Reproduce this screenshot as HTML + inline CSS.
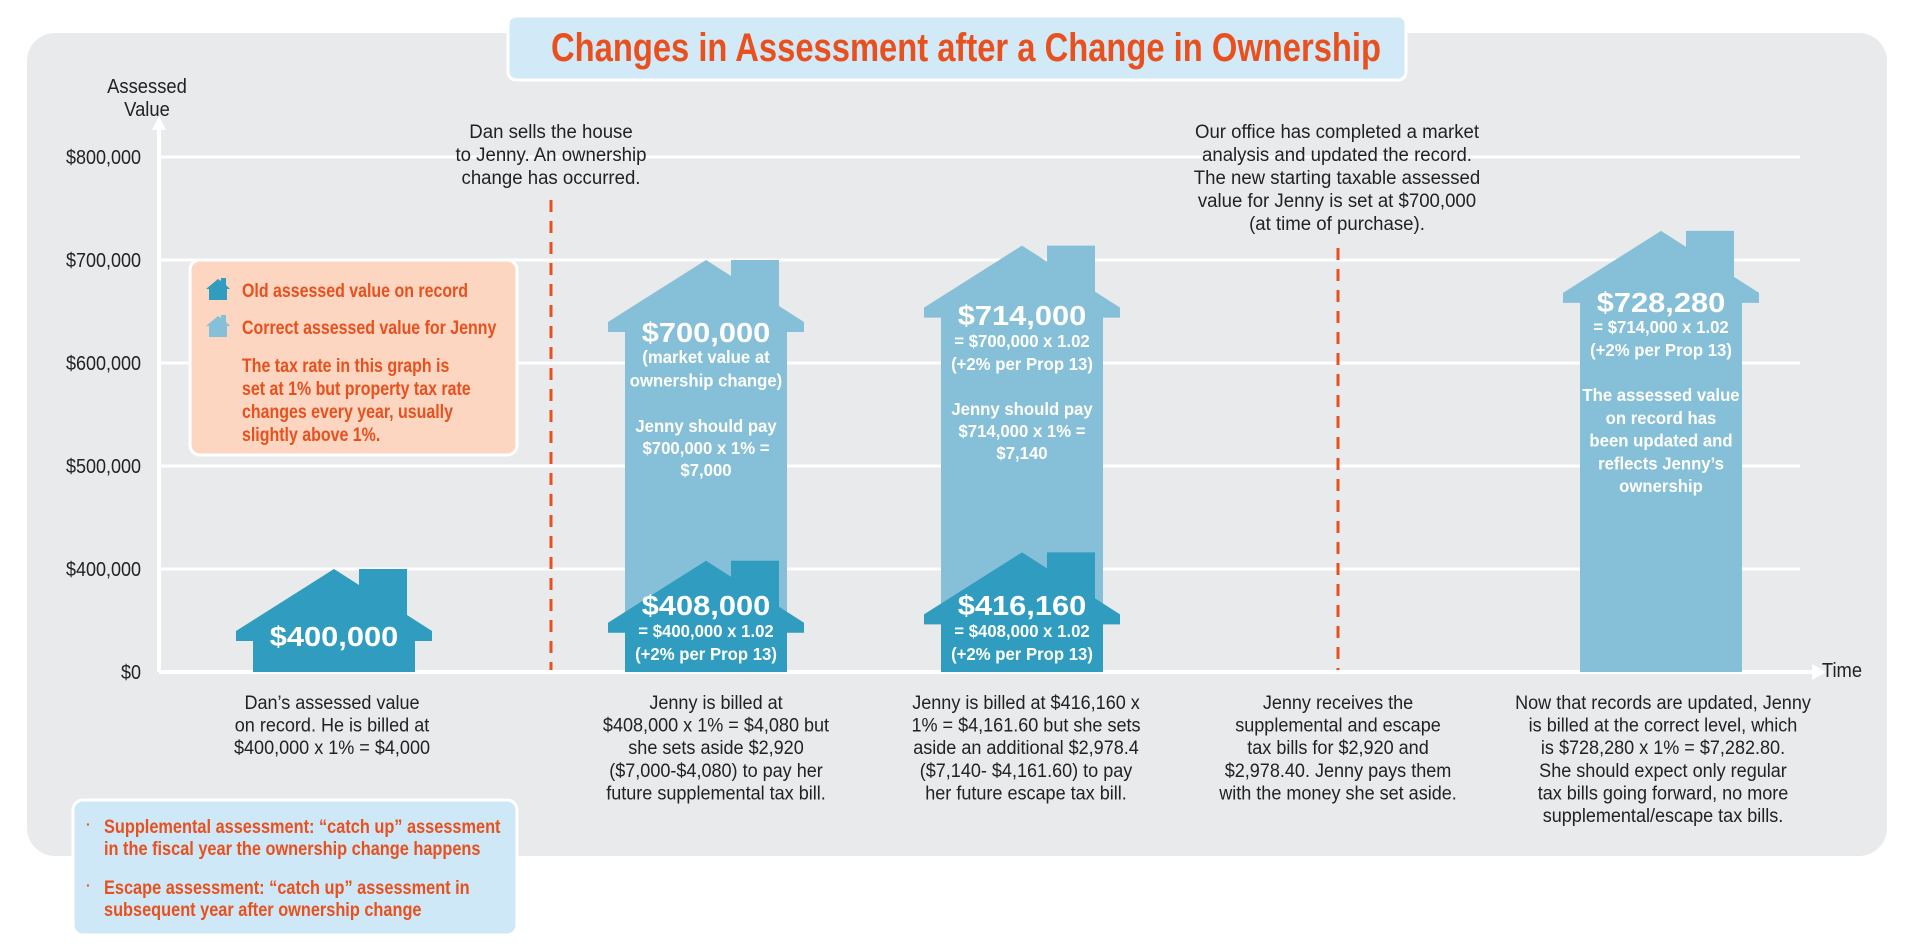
<!DOCTYPE html>
<html><head><meta charset="utf-8">
<style>
html,body{margin:0;padding:0;background:#fff;}
svg{display:block;}
text{font-family:"Liberation Sans Narrow","Liberation Sans",sans-serif;}
</style></head>
<body>
<svg id="chart" width="1920" height="952" viewBox="0 0 1920 952" xmlns="http://www.w3.org/2000/svg">
  <rect x="27" y="33" width="1860" height="823" rx="28" fill="#e9eaec"/>
  <g>
    <rect x="508" y="16" width="898" height="64" rx="8" fill="#d2eaf8" stroke="#fff" stroke-width="3"/>
    <text x="966" y="61" text-anchor="middle" font-size="40" font-weight="bold" fill="#e8501e" textLength="830" lengthAdjust="spacingAndGlyphs">Changes in Assessment after a Change in Ownership</text>
  </g>
  <g id="grid"></g>
  <g id="yaxis"></g>
  <g id="houses"></g>
  <g id="texts"></g>
</svg>
<script>
const tickValues = [0, 400000, 500000, 600000, 700000, 800000];
const tickLabels = ["$0", "$400,000", "$500,000", "$600,000", "$700,000", "$800,000"];
const oldValues = [400000, 408000, 416160, null];
const correctValues = [null, 700000, 714000, 728280];
const houseCenters = [334, 706, 1022, 1661];
const eventLabels = ["Dan sells the house", "Office updated record"];
const eventPositions = [551, 1338];

const NS = "http://www.w3.org/2000/svg";
const BASE = 672;
function yScale(v){
  if (v <= 0) return BASE;
  if (v < 400000) return BASE - v/400000*103;
  return 569 - (v-400000)/100000*103;
}
function mk(tag, attrs, parent){
  const e = document.createElementNS(NS, tag);
  for (const k in attrs) e.setAttribute(k, attrs[k]);
  parent.appendChild(e);
  return e;
}
const grid = document.getElementById('grid');
const yaxis = document.getElementById('yaxis');
tickValues.forEach((v,i)=>{
  const y = yScale(v);
  if (v > 0) {
    const l = mk('line',{x1:159,x2:1800,y1:y,y2:y,stroke:'#fff','stroke-width':3},grid);
    
    
  }
  const t = mk('text',{transform:`translate(141,${y+7}) scale(0.9,1)`,'text-anchor':'end','font-size':20,fill:'#222'},yaxis);
  t.textContent = tickLabels[i];
  
  
});
let ax = mk('line',{x1:159,x2:1812,y1:BASE,y2:BASE,stroke:'#fff','stroke-width':4},yaxis);


let ah = mk('path',{d:'M1812,664 L1826,672 L1812,680 Z',fill:'#fff'},yaxis);


let ay = mk('line',{x1:159,x2:159,y1:BASE,y2:128,stroke:'#fff','stroke-width':4},yaxis);


let ayh = mk('path',{d:'M152,130 L159,116 L166,130 Z',fill:'#fff'},yaxis);


const dashTops = [200, 248];
eventPositions.forEach((x,i)=>{
  const d = mk('line',{x1:x,x2:x,y1:dashTops[i],y2:BASE,stroke:'#e8501e','stroke-width':3,'stroke-dasharray':'12,9'},grid);
  
  
  d.setAttribute('aria-label', eventLabels[i]);
});

const houses = document.getElementById('houses');
function house(cx, v, color){
  const t = yScale(v);
  const p = `M${cx-81},${BASE} L${cx-81},${t+72} L${cx-98},${t+72} L${cx-98},${t+62} L${cx},${t} L${cx+25},${t+16} L${cx+25},${t} L${cx+73},${t} L${cx+73},${t+46} L${cx+98},${t+62} L${cx+98},${t+72} L${cx+81},${t+72} L${cx+81},${BASE} Z`;
  return mk('path',{d:p,fill:color,'stroke-linejoin':'round'},houses);
}
correctValues.forEach((v,i)=>{
  if (v == null) return;
  const h = house(houseCenters[i], v, '#86bfd8');
  
  
});
oldValues.forEach((v,i)=>{
  if (v == null) return;
  const h = house(houseCenters[i], v, '#2f9cc0');
  
  
});

const T = document.getElementById('texts');
function txt(x,y,s,size,color,weight,anchor,sx){
  const e = mk('text',{x:0,y:0,transform:`translate(${x},${y}) scale(${sx||0.95},1)`,'font-size':size,fill:color,'font-weight':weight||'normal','text-anchor':anchor||'middle'},T);
  e.textContent = s;
  
  
  return e;
}
function block(x,y0,dy,lines,size,color,weight,anchor,sx){
  lines.forEach((s,i)=>txt(x,y0+i*dy,s,size,color,weight,anchor,sx));
}
block(147,93,23,["Assessed","Value"],20,'#222','normal','middle',0.92);
txt(1842,677,"Time",20,'#222','normal','middle',0.92);
block(551,138,23,["Dan sells the house","to Jenny. An ownership","change has occurred."],19,'#222','normal','middle',0.98);
block(1337,138,23,["Our office has completed a market","analysis and updated the record.","The new starting taxable assessed","value for Jenny is set at $700,000","(at time of purchase)."],19,'#222','normal','middle',0.98);
block(332,709,22.6,["Dan’s assessed value","on record. He is billed at","$400,000 x 1% = $4,000"],19,'#222');
block(716,709,22.6,["Jenny is billed at","$408,000 x 1% = $4,080 but","she sets aside $2,920","($7,000-$4,080) to pay her","future supplemental tax bill."],19,'#222');
block(1026,709,22.6,["Jenny is billed at $416,160 x","1% = $4,161.60 but she sets","aside an additional $2,978.4","($7,140- $4,161.60) to pay","her future escape tax bill."],19,'#222');
block(1338,709,22.6,["Jenny receives the","supplemental and escape","tax bills for $2,920 and","$2,978.40. Jenny pays them","with the money she set aside."],19,'#222');
block(1663,709,22.6,["Now that records are updated, Jenny","is billed at the correct level, which","is $728,280 x 1% = $7,282.80.","She should expect only regular","tax bills going forward, no more","supplemental/escape tax bills."],19,'#222');
const W='#fff';
const BS=1.1, SS=0.93;
txt(334,646,"$400,000",28,W,'bold','middle',BS);
txt(706,342,"$700,000",28,W,'bold','middle',BS);
block(706,363,23.5,["(market value at","ownership change)"],18,W,'bold','middle',SS);
block(706,432,22,["Jenny should pay","$700,000 x 1% =","$7,000"],18,W,'bold','middle',SS);
txt(706,615,"$408,000",28,W,'bold','middle',BS);
block(706,637,23,["= $400,000 x 1.02","(+2% per Prop 13)"],18,W,'bold','middle',SS);
txt(1022,325,"$714,000",28,W,'bold','middle',BS);
block(1022,347,23,["= $700,000 x 1.02","(+2% per Prop 13)"],18,W,'bold','middle',SS);
block(1022,415,22,["Jenny should pay","$714,000 x 1% =","$7,140"],18,W,'bold','middle',SS);
txt(1022,615,"$416,160",28,W,'bold','middle',BS);
block(1022,637,23,["= $408,000 x 1.02","(+2% per Prop 13)"],18,W,'bold','middle',SS);
txt(1661,312,"$728,280",28,W,'bold','middle',BS);
block(1661,333,23,["= $714,000 x 1.02","(+2% per Prop 13)"],18,W,'bold','middle',SS);
block(1661,401,22.8,["The assessed value","on record has","been updated and","reflects Jenny’s","ownership"],18,W,'bold','middle',SS);
</script>
<svg width="1920" height="952" style="position:absolute;left:0;top:0" xmlns="http://www.w3.org/2000/svg">
  <g>
    <rect x="190" y="260" width="327" height="195" rx="10" fill="#fcd6c1" stroke="#fff" stroke-width="3"/>
    <path d="M209,300 L209,289 L206,289 L218,279 L221,281 L221,278 L226,278 L226,285 L230,289 L227,289 L227,300 Z" fill="#2f9cc0"/>
    <path d="M209,337 L209,326 L206,326 L218,316 L221,318 L221,315 L226,315 L226,322 L230,326 L227,326 L227,337 Z" fill="#86bfd8"/>
    <g font-weight="bold" font-size="19" fill="#e8501e">
      <text transform="translate(242,297) scale(0.84,1)">Old assessed value on record</text>
      <text transform="translate(242,334) scale(0.84,1)">Correct assessed value for Jenny</text>
      <text transform="translate(242,372) scale(0.84,1)">The tax rate in this graph is</text>
      <text transform="translate(242,395) scale(0.84,1)">set at 1% but property tax rate</text>
      <text transform="translate(242,418) scale(0.84,1)">changes every year, usually</text>
      <text transform="translate(242,441) scale(0.84,1)">slightly above 1%.</text>
    </g>
  </g>
  <g>
    <rect x="73" y="800" width="444" height="135" rx="10" fill="#cfe8f7" stroke="#fff" stroke-width="3"/>
    <g font-weight="bold" font-size="19" fill="#e8501e">
      <text x="86" y="829" font-size="14">·</text>
      <text transform="translate(104,833) scale(0.86,1)">Supplemental assessment: “catch up” assessment</text>
      <text transform="translate(104,855) scale(0.86,1)">in the fiscal year the ownership change happens</text>
      <text x="86" y="890" font-size="14">·</text>
      <text transform="translate(104,894) scale(0.86,1)">Escape assessment: “catch up” assessment in</text>
      <text transform="translate(104,916) scale(0.86,1)">subsequent year after ownership change</text>
    </g>
  </g>
</svg>
</body></html>
